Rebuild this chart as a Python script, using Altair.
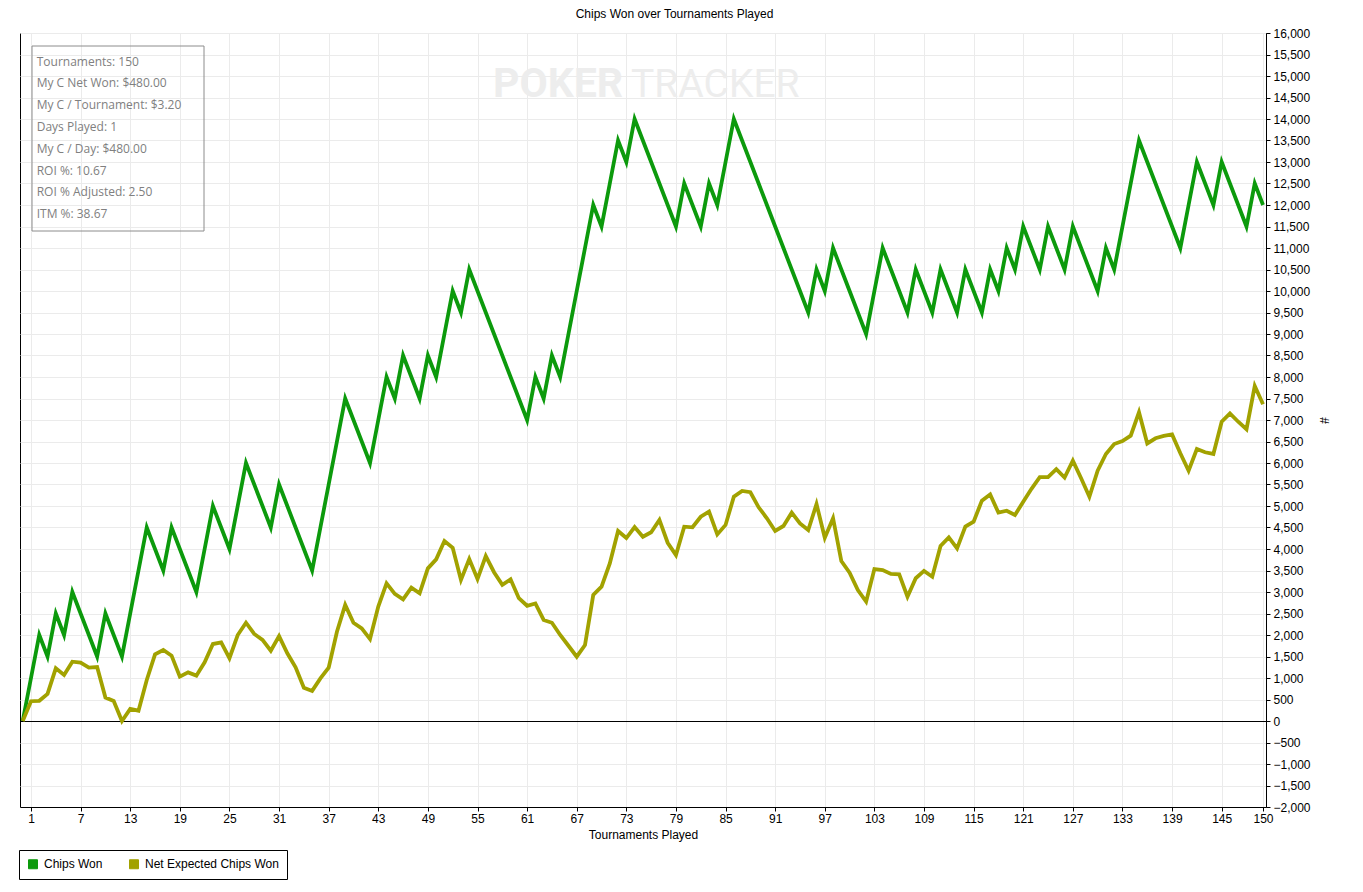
import altair as alt
import pandas as pd

tournaments = list(range(0, 151))

chips_won = [
    0, 1000, 2000, 1500, 2500, 2000, 3000, 2500, 2000, 1500,
    2500, 2000, 1500, 2500, 3500, 4500, 4000, 3500, 4500, 4000,
    3500, 3000, 4000, 5000, 4500, 4000, 5000, 6000, 5500, 5000,
    4500, 5500, 5000, 4500, 4000, 3500, 4500, 5500, 6500, 7500,
    7000, 6500, 6000, 7000, 8000, 7500, 8500, 8000, 7500, 8500,
    8000, 9000, 10000, 9500, 10500, 10000, 9500, 9000, 8500, 8000,
    7500, 7000, 8000, 7500, 8500, 8000, 9000, 10000, 11000, 12000,
    11500, 12500, 13500, 13000, 14000, 13500, 13000, 12500, 12000, 11500,
    12500, 12000, 11500, 12500, 12000, 13000, 14000, 13500, 13000, 12500,
    12000, 11500, 11000, 10500, 10000, 9500, 10500, 10000, 11000, 10500,
    10000, 9500, 9000, 10000, 11000, 10500, 10000, 9500, 10500, 10000,
    9500, 10500, 10000, 9500, 10500, 10000, 9500, 10500, 10000, 11000,
    10500, 11500, 11000, 10500, 11500, 11000, 10500, 11500, 11000, 10500,
    10000, 11000, 10500, 11500, 12500, 13500, 13000, 12500, 12000, 11500,
    11000, 12000, 13000, 12500, 12000, 13000, 12500, 12000, 11500, 12500,
    12000,
]

net_expected = [
    0, 460, 470, 630, 1225, 1070, 1380, 1360, 1240, 1255,
    545, 465, 0, 280, 240, 955, 1550, 1650, 1520, 1030,
    1130, 1055, 1365, 1790, 1830, 1460, 2000, 2285, 2025, 1885,
    1635, 1975, 1575, 1250, 775, 700, 990, 1240, 2075, 2700,
    2285, 2155, 1905, 2660, 3200, 2955, 2830, 3100, 2970, 3550,
    3760, 4185, 4030, 3280, 3765, 3300, 3835, 3460, 3165, 3295,
    2855, 2680, 2735, 2350, 2285, 2000, 1750, 1495, 1765, 2930,
    3125, 3665, 4420, 4255, 4510, 4285, 4390, 4675, 4145, 3860,
    4520, 4505, 4750, 4870, 4340, 4560, 5215, 5350, 5320, 4970,
    4715, 4420, 4535, 4845, 4595, 4440, 5045, 4260, 4715, 3720,
    3450, 3045, 2775, 3535, 3510, 3420, 3410, 2890, 3320, 3490,
    3355, 4070, 4270, 4015, 4520, 4635, 5125, 5270, 4845, 4890,
    4790, 5100, 5400, 5670, 5670, 5855, 5660, 6055, 5645, 5215,
    5820, 6210, 6440, 6510, 6635, 7180, 6455, 6575, 6630, 6665,
    6225, 5820, 6325, 6250, 6210, 6960, 7155, 6960, 6785, 7790,
    7365,
]

series_names = ["Chips Won", "Net Expected Chips Won"]
series_colors = ["#0C9A0C", "#A2A200"]

x_tick_values = [1, 7, 13, 19, 25, 31, 37, 43, 49, 55, 61, 67, 73, 79, 85, 91,
                 97, 103, 109, 115, 121, 127, 133, 139, 145, 150]
y_tick_values = list(range(-2000, 16001, 500))

stats_lines = [
    "Tournaments: 150",
    "My C Net Won: $480.00",
    "My C / Tournament: $3.20",
    "Days Played: 1",
    "My C / Day: $480.00",
    "ROI %: 10.67",
    "ROI % Adjusted: 2.50",
    "ITM %: 38.67",
]
chart_title = "Chips Won over Tournaments Played"
watermark_bold = "POKER"
watermark_light = "TRACKER"

df = pd.DataFrame({
    "Tournament": tournaments + tournaments,
    "Chips": chips_won + net_expected,
    "Series": [series_names[0]] * len(tournaments) + [series_names[1]] * len(tournaments),
})

W, H = 1246, 774
FONT = "Liberation Sans"

xscale = alt.Scale(domain=[-0.33, 150.36], nice=False, zero=False)
yscale = alt.Scale(domain=[-2000, 16000], nice=False)
cscale = alt.Scale(domain=series_names, range=series_colors)

x_axis = alt.Axis(values=x_tick_values, title="Tournaments Played", grid=True,
                  tickSize=4, labelPadding=2, titlePadding=5, labelFlush=False,
                  labelOverlap=False, format="d")
y_axis = alt.Axis(orient="right", values=y_tick_values, format=",d", title="#",
                  grid=True, tickSize=4, labelPadding=3, labelAlign="left",
                  labelFlush=False, labelOverlap=False,
                  titleAngle=90, titleX=57, titleY=387, titleAlign="center",
                  titleBaseline="middle")

x_enc = alt.X("Tournament:Q", scale=xscale, axis=x_axis)
y_enc = alt.Y("Chips:Q", scale=yscale, axis=y_axis)

legend_def = alt.Legend(
    title=None, orient="none", legendX=-1, legendY=817,
    direction="horizontal", strokeColor="black", fillColor="white",
    padding=8, symbolType="square", symbolSize=81,
    symbolStrokeColor="#222222", symbolStrokeWidth=1, symbolOpacity=1,
    labelFont=FONT, labelFontSize=12, labelColor="black",
    columnPadding=24, labelOffset=5,
)

# watermark
wm1 = alt.Chart(pd.DataFrame({"t": [watermark_bold]})).mark_text(
    font="Roboto", fontSize=41, fontWeight="bold", color="#ededed",
    align="left", baseline="alphabetic",
).encode(text="t:N", x=alt.value(473), y=alt.value(64))
wm2 = alt.Chart(pd.DataFrame({"t": [watermark_light]})).mark_text(
    font="Roboto", fontSize=39, color="#ededed",
    align="left", baseline="alphabetic",
).encode(text="t:N", x=alt.value(611), y=alt.value(64))

zero_rule = alt.Chart(pd.DataFrame({"Chips": [0]})).mark_rule(
    color="black", strokeWidth=1, yOffset=0.5
).encode(y=y_enc)

legend_layer = alt.Chart(df).transform_filter("datum.Tournament < -100").mark_square(
    size=81, filled=True, stroke="#222222", strokeWidth=1, opacity=1
).encode(
    x=x_enc, y=y_enc,
    color=alt.Color("Series:N", scale=cscale, legend=legend_def),
)

lines = alt.Chart(df).mark_line(strokeWidth=3.8).encode(
    x=x_enc, y=y_enc,
    color=alt.Color("Series:N", scale=cscale, legend=legend_def),
    order="Tournament:Q",
)

info_box = alt.Chart(pd.DataFrame({"k": [0]})).mark_rect(
    fillOpacity=0, stroke="#8c8c8c", strokeWidth=1
).encode(x=alt.value(12), x2=alt.value(184), y=alt.value(13), y2=alt.value(198))

info_text = alt.Chart(pd.DataFrame({"t": ["\n".join(stats_lines)]})).mark_text(
    font="Open Sans", fontSize=12, color="#808080", align="left",
    baseline="alphabetic", lineBreak="\n", lineHeight=21.8,
).encode(text="t:N", x=alt.value(16.7), y=alt.value(32.7))

title_text = alt.Chart(pd.DataFrame({"t": [chart_title]})).mark_text(
    font=FONT, fontSize=12, color="black", align="center", baseline="alphabetic",
).encode(text="t:N", x=alt.value(654.5), y=alt.value(-14.7))

chart = alt.layer(
    wm1, wm2, zero_rule, legend_layer, lines, info_box, info_text, title_text
).properties(
    width=W, height=H,
    background="white",
    autosize=alt.AutoSizeParams(type="none"),
    padding={"left": 12, "top": 25, "right": 80, "bottom": 74},
).configure_view(
    stroke="black", strokeWidth=1
).configure_axis(
    gridColor="#ebebeb", gridWidth=1, domainColor="black", tickColor="black",
    labelColor="black", labelFont=FONT, labelFontSize=12,
    titleFont=FONT, titleFontSize=12, titleFontWeight="normal", titleColor="black",
)

chart.save("out.html", embed_options={"renderer": "svg", "actions": False})
